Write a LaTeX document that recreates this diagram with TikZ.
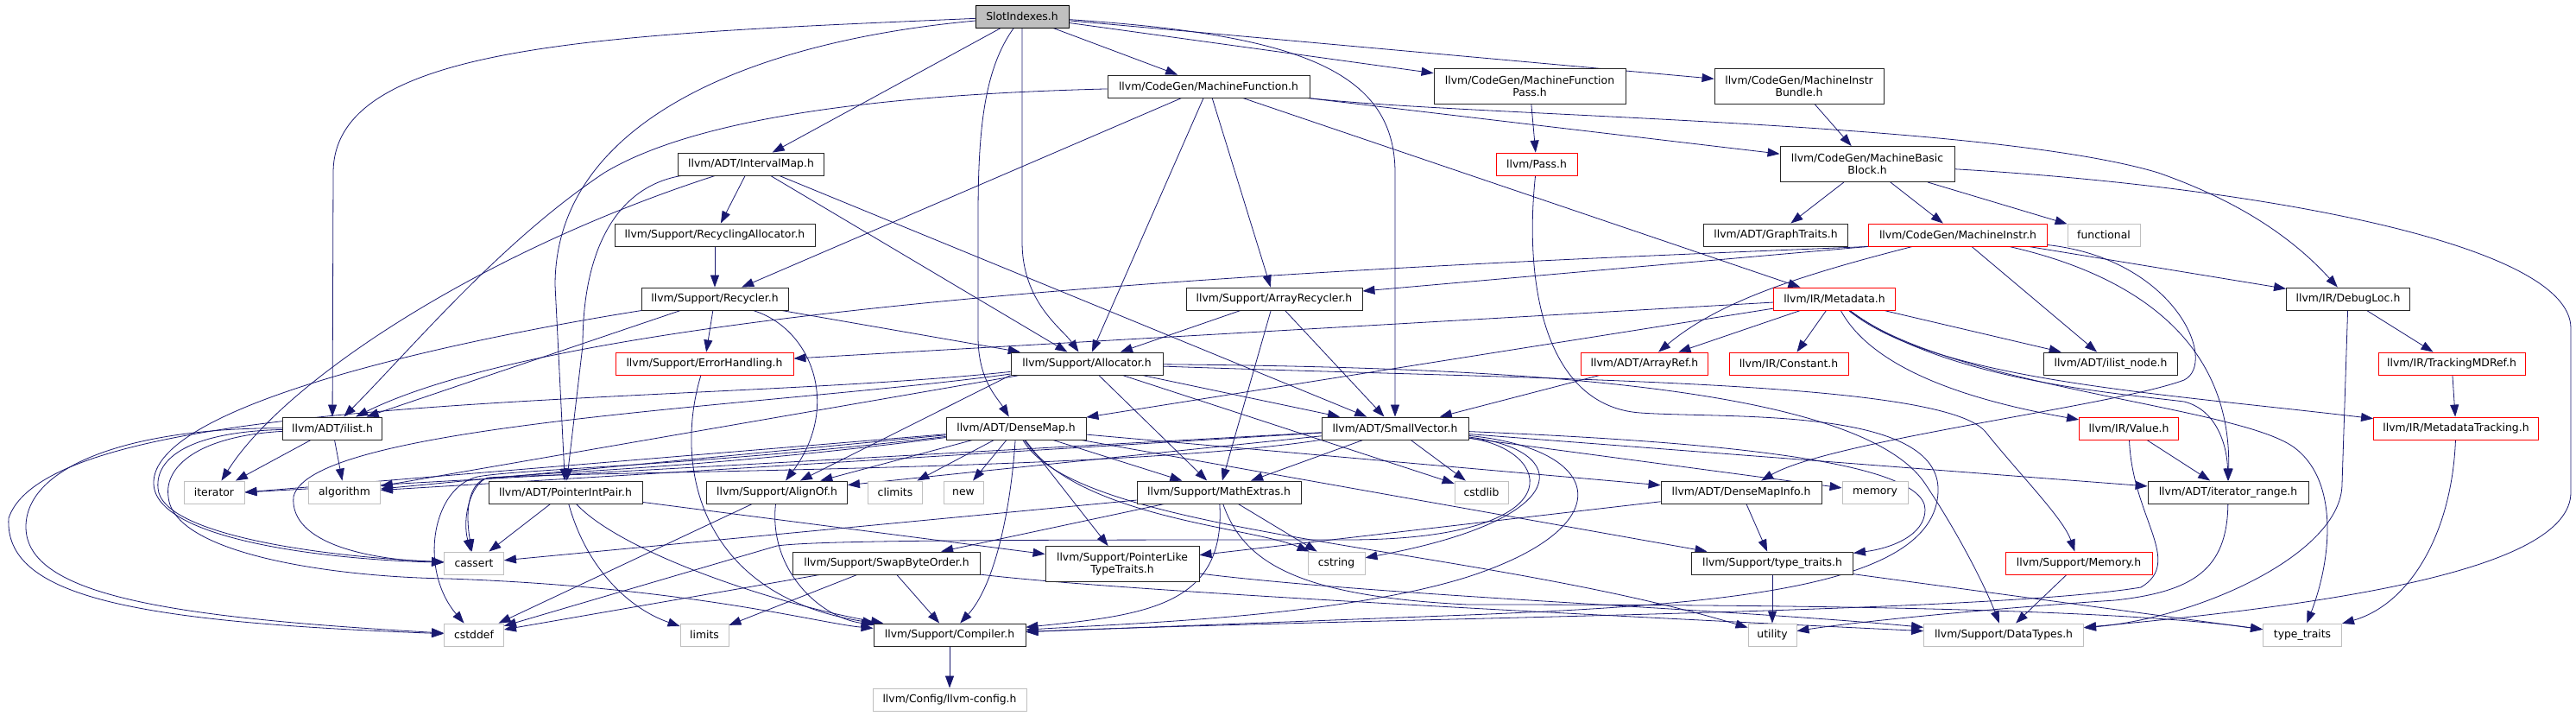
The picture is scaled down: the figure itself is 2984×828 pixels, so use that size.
\documentclass[tikz,border=0pt]{standalone}
\usepackage{fontspec}
\setmainfont{DejaVu Sans}
\usetikzlibrary{arrows.meta,backgrounds}
\definecolor{edgeblue}{HTML}{191970}
\definecolor{boxgray}{HTML}{BFBFBF}

\begin{document}
\begin{tikzpicture}[x=1pt,y=-1pt,
hdr/.style={draw=black!85,line width=0.9pt,fill=white,minimum height=26pt,inner sep=0pt,align=center,font=\fontsize{12.4}{14.5}\selectfont},
twoline/.style={hdr,minimum height=41pt},
root/.style={hdr,draw=black,fill=boxgray},
partial/.style={hdr,draw=red},
sysfile/.style={hdr,draw=boxgray},
dep/.style={draw=edgeblue,line width=0.8pt,-{Triangle[length=14pt,width=10pt]}}]
\useasboundingbox (0,0) rectangle (2984,828);
% row 0
\node[root,minimum width=108pt] (slot) at (1184,19) {SlotIndexes.h};
% row 1
\node[hdr,minimum width=234pt] (mfunc) at (1400,100) {llvm/CodeGen/MachineFunction.h};
\node[twoline,minimum width=222pt] (mfpass) at (1772,100) {llvm/CodeGen/MachineFunction\\Pass.h};
\node[twoline,minimum width=196pt] (mibundle) at (2084,100) {llvm/CodeGen/MachineInstr\\Bundle.h};
% row 2
\node[hdr,minimum width=169pt] (imap) at (870,190) {llvm/ADT/IntervalMap.h};
\node[partial,minimum width=94pt] (pass) at (1780,190) {llvm/Pass.h};
\node[twoline,minimum width=202pt] (mbb) at (2163,190) {llvm/CodeGen/MachineBasic\\Block.h};
% row 3
\node[hdr,minimum width=232pt] (recalloc) at (828,272) {llvm/Support/RecyclingAllocator.h};
\node[hdr,minimum width=167pt] (gtraits) at (2057,272) {llvm/ADT/GraphTraits.h};
\node[partial,minimum width=207pt] (minstr) at (2268,272) {llvm/CodeGen/MachineInstr.h};
\node[sysfile,minimum width=84pt] (functional) at (2437,272) {functional};
% row 4
\node[hdr,minimum width=170pt] (recycler) at (828,346) {llvm/Support/Recycler.h};
\node[hdr,minimum width=204pt] (arecycler) at (1476,346) {llvm/Support/ArrayRecycler.h};
\node[partial,minimum width=141pt] (metadata) at (2125,346) {llvm/IR/Metadata.h};
\node[hdr,minimum width=143pt] (debugloc) at (2720,346) {llvm/IR/DebugLoc.h};
% row 5
\node[partial,minimum width=206pt] (errh) at (816,421) {llvm/Support/ErrorHandling.h};
\node[hdr,minimum width=176pt] (alloc) at (1259,421) {llvm/Support/Allocator.h};
\node[partial,minimum width=147pt] (aref) at (1905,421) {llvm/ADT/ArrayRef.h};
\node[partial,minimum width=138pt] (constant) at (2072,421) {llvm/IR/Constant.h};
\node[hdr,minimum width=155pt] (ilnode) at (2445,421) {llvm/ADT/ilist\_node.h};
\node[partial,minimum width=170pt] (trackmd) at (2840,421) {llvm/IR/TrackingMDRef.h};
% row 6
\node[hdr,minimum width=115pt] (ilist) at (385,496) {llvm/ADT/ilist.h};
\node[hdr,minimum width=162pt] (densemap) at (1177,496) {llvm/ADT/DenseMap.h};
\node[hdr,minimum width=170pt] (smallvec) at (1616,496) {llvm/ADT/SmallVector.h};
\node[partial,minimum width=115pt] (value) at (2466,496) {llvm/IR/Value.h};
\node[partial,minimum width=191pt] (mdtrack) at (2845,496) {llvm/IR/MetadataTracking.h};
% row 7
\node[sysfile,minimum width=70pt] (iterator) at (248,570) {iterator};
\node[sysfile,minimum width=83pt] (algorithm) at (399,570) {algorithm};
\node[hdr,minimum width=178pt] (pip) at (655,570) {llvm/ADT/PointerIntPair.h};
\node[hdr,minimum width=163pt] (alignof) at (900,570) {llvm/Support/AlignOf.h};
\node[sysfile,minimum width=63pt] (climits) at (1037,570) {climits};
\node[sysfile,minimum width=46pt] (new) at (1116,570) {new};
\node[hdr,minimum width=190pt] (mathext) at (1412,570) {llvm/Support/MathExtras.h};
\node[sysfile,minimum width=62pt] (cstdlib) at (1716,570) {cstdlib};
\node[hdr,minimum width=186pt] (dmi) at (2017,570) {llvm/ADT/DenseMapInfo.h};
\node[sysfile,minimum width=76pt] (memory) at (2172,570) {memory};
\node[hdr,minimum width=186pt] (itrange) at (2581,570) {llvm/ADT/iterator\_range.h};
% row 8
\node[sysfile,minimum width=69pt] (cassert) at (549,652) {cassert};
\node[hdr,minimum width=217pt] (sbo) at (1027,652) {llvm/Support/SwapByteOrder.h};
\node[twoline,minimum width=178pt] (plt) at (1300,653) {llvm/Support/PointerLike\\TypeTraits.h};
\node[sysfile,minimum width=66pt] (cstring) at (1548,652) {cstring};
\node[hdr,minimum width=187pt] (sttraits) at (2053,652) {llvm/Support/type\_traits.h};
\node[partial,minimum width=170pt] (memoryh) at (2408,652) {llvm/Support/Memory.h};
% row 9
\node[sysfile,minimum width=69pt] (cstddef) at (549,735) {cstddef};
\node[sysfile,minimum width=56pt] (limits) at (816,735) {limits};
\node[hdr,minimum width=176pt] (compiler) at (1100,735) {llvm/Support/Compiler.h};
\node[sysfile,minimum width=56pt] (utility) at (2053,735) {utility};
\node[sysfile,minimum width=185pt] (datatypes) at (2321,735) {llvm/Support/DataTypes.h};
\node[sysfile,minimum width=91pt] (typetraits) at (2667,735) {type\_traits};
% row 10
\node[sysfile,minimum width=178pt] (config) at (1100,810) {llvm/Config/llvm-config.h};

\begin{scope}[on background layer]
% SlotIndexes.h
\draw[dep] (slot) .. controls (700,40) and (386,50) .. (386,200) -- (ilist);
\draw[dep] (slot) .. controls (850,50) and (643,150) .. (643,330) -- (pip);
\draw[dep] (slot) -- (imap);
\draw[dep] (slot) .. controls (1140,80) and (1133,150) .. (1133,250) -- (1133,390) .. controls (1133,440) and (1155,460) .. (densemap);
\draw[dep] (slot) -- (1184,280) .. controls (1184,350) and (1230,380) .. (alloc);
\draw[dep] (slot) -- (mfunc);
\draw[dep] (slot) -- (mfpass);
\draw[dep] (slot) -- (mibundle);
\draw[dep] (slot) .. controls (1500,40) and (1616,80) .. (1616,200) -- (smallvec);
% MachineFunction.h
\draw[dep] (mfunc) .. controls (1000,110) and (800,140) .. (700,200) .. controls (580,280) and (480,400) .. (ilist);
\draw[dep] (mfunc) -- (recycler);
\draw[dep] (mfunc) -- (alloc);
\draw[dep] (mfunc) -- (arecycler);
\draw[dep] (mfunc) -- (metadata);
\draw[dep] (mfunc) -- (mbb);
\draw[dep] (mfunc) .. controls (1700,135) and (2300,140) .. (2500,200) .. controls (2600,235) and (2660,280) .. (debugloc);
\draw[dep] (mfpass) -- (pass);
\draw[dep] (mibundle) -- (mbb);
\draw[dep] (pass) .. controls (1765,330) and (1790,470) .. (1900,478) .. controls (2000,485) and (2250,470) .. (2245,570) .. controls (2240,680) and (2000,700) .. (1700,712) -- (compiler);
% IntervalMap.h
\draw[dep] (imap) -- (recalloc);
\draw[dep] (imap) .. controls (720,215) and (675,280) .. (675,400) -- (pip);
\draw[dep] (imap) .. controls (560,290) and (330,440) .. (iterator);
\draw[dep] (imap) -- (alloc);
\draw[dep] (imap) -- (smallvec);
% Recycler.h
\draw[dep] (recalloc) -- (recycler);
\draw[dep] (recycler) -- (errh);
\draw[dep] (recycler) .. controls (940,380) and (975,470) .. (alignof);
\draw[dep] (recycler) -- (alloc);
\draw[dep] (recycler) -- (ilist);
\draw[dep] (recycler) .. controls (520,395) and (175,470) .. (178,560) .. controls (180,625) and (380,648) .. (cassert);
% ArrayRecycler.h
\draw[dep] (arecycler) -- (alloc);
\draw[dep] (arecycler) -- (mathext);
\draw[dep] (arecycler) -- (smallvec);
% MachineBasicBlock.h
\draw[dep] (mbb) -- (gtraits);
\draw[dep] (mbb) -- (minstr);
\draw[dep] (mbb) -- (functional);
\draw[dep] (mbb) .. controls (2600,215) and (2978,280) .. (2978,380) -- (2978,570) .. controls (2978,660) and (2700,700) .. (datatypes);
% MachineInstr.h
\draw[dep] (minstr.south west) -- (arecycler);
\draw[dep] (minstr.south west) .. controls (1700,305) and (700,340) .. (ilist);
\draw[dep] (minstr) .. controls (2080,320) and (1990,350) .. (aref);
\draw[dep] (minstr) -- (ilnode);
\draw[dep] (minstr) -- (debugloc);
\draw[dep] (minstr) .. controls (2480,320) and (2585,400) .. (itrange);
\draw[dep] (minstr) .. controls (2520,300) and (2570,420) .. (2530,440) .. controls (2450,470) and (2120,510) .. (dmi);
% Metadata.h
\draw[dep] (metadata) -- (errh);
\draw[dep] (metadata) -- (densemap);
\draw[dep] (metadata) -- (aref);
\draw[dep] (metadata) -- (constant);
\draw[dep] (metadata) -- (ilnode);
\draw[dep] (metadata) .. controls (2165,420) and (2260,460) .. (value);
\draw[dep] (metadata) .. controls (2240,440) and (2500,455) .. (mdtrack);
\draw[dep] (metadata) .. controls (2250,440) and (2450,455) .. (2530,465) .. controls (2570,475) and (2580,520) .. (itrange);
\draw[dep] (metadata) .. controls (2260,450) and (2600,470) .. (2660,520) .. controls (2710,560) and (2700,650) .. (typetraits);
% DebugLoc.h, Value.h
\draw[dep] (debugloc) -- (trackmd);
\draw[dep] (debugloc) -- (2713,560) .. controls (2713,640) and (2550,715) .. (datatypes);
\draw[dep] (trackmd) -- (mdtrack);
\draw[dep] (mdtrack) .. controls (2840,620) and (2790,700) .. (typetraits);
\draw[dep] (aref) -- (smallvec);
\draw[dep] (value) -- (itrange);
\draw[dep] (value) .. controls (2470,600) and (2530,650) .. (2480,680) .. controls (2300,710) and (1600,715) .. (compiler);
% Allocator.h
\draw[dep] (alloc) -- (smallvec);
\draw[dep] (alloc.south west) -- (alignof);
\draw[dep] (alloc) -- (mathext);
\draw[dep] (alloc) -- (algorithm);
\draw[dep] (alloc) -- (cstdlib);
\draw[dep] (alloc) .. controls (900,470) and (360,490) .. (340,575) .. controls (335,630) and (430,648) .. (cassert);
\draw[dep] (alloc) .. controls (800,470) and (60,450) .. (10,600) .. controls (5,690) and (150,720) .. (cstddef);
\draw[dep] (alloc) .. controls (1700,425) and (2150,440) .. (2230,560) .. controls (2270,620) and (2300,680) .. (datatypes);
\draw[dep] (alloc) .. controls (1800,440) and (2250,440) .. (2300,500) .. controls (2340,550) and (2390,600) .. (memoryh);
% DenseMap.h
\draw[dep] (densemap) -- (dmi);
\draw[dep] (densemap) -- (alignof);
\draw[dep] (densemap) -- (mathext);
\draw[dep] (densemap) -- (plt);
\draw[dep] (densemap) -- (sttraits);
\draw[dep] (densemap) -- (algorithm);
\draw[dep] (densemap) -- (climits);
\draw[dep] (densemap) -- (new);
\draw[dep] (densemap) -- (iterator.east);
\draw[dep] (densemap) .. controls (1170,600) and (1150,680) .. (compiler);
\draw[dep] (densemap) .. controls (800,545) and (600,547) .. (560,555) .. controls (540,565) and (540,600) .. (cassert);
\draw[dep] (densemap) .. controls (800,540) and (600,543) .. (553,552) .. controls (500,565) and (485,660) .. (cstddef);
\draw[dep] (densemap) .. controls (1250,600) and (1450,610) .. (cstring);
\draw[dep] (densemap) .. controls (1250,620) and (1700,630) .. (utility);
% SmallVector.h
\draw[dep] (smallvec) -- (itrange);
\draw[dep] (smallvec) -- (alignof);
\draw[dep] (smallvec) -- (mathext);
\draw[dep] (smallvec) -- (algorithm);
\draw[dep] (smallvec) -- (cstdlib);
\draw[dep] (smallvec) -- (memory);
\draw[dep] (smallvec) -- (iterator.east);
\draw[dep] (smallvec) .. controls (1300,545) and (700,545) .. (565,553) .. controls (545,560) and (535,600) .. (cassert);
\draw[dep] (smallvec) .. controls (1800,520) and (1830,625) .. (1560,625) .. controls (1200,625) and (950,625) .. (900,632) -- (cstddef);
\draw[dep] (smallvec) .. controls (1820,520) and (1830,600) .. (cstring);
\draw[dep] (smallvec) .. controls (1860,520) and (1880,610) .. (1700,668) .. controls (1550,715) and (1300,722) .. (compiler);
\draw[dep] (smallvec) .. controls (1950,510) and (2230,530) .. (2230,590) .. controls (2230,620) and (2190,635) .. (sttraits);
% MathExtras.h
\draw[dep] (mathext) -- (sbo);
\draw[dep] (mathext) -- (cassert);
\draw[dep] (mathext) -- (cstring);
\draw[dep] (mathext) .. controls (1420,700) and (1330,712) .. (compiler);
\draw[dep] (mathext) .. controls (1440,650) and (1500,690) .. (1700,700) .. controls (2100,700) and (2450,705) .. (typetraits);
% lower rows
\draw[dep] (sbo) -- (compiler);
\draw[dep] (sbo) -- (cstddef);
\draw[dep] (sbo) -- (limits);
\draw[dep] (sbo) .. controls (1300,685) and (1900,715) .. (datatypes);
\draw[dep] (pip) -- (cassert);
\draw[dep] (pip) -- (plt);
\draw[dep] (pip) .. controls (680,660) and (730,705) .. (limits);
\draw[dep] (pip) .. controls (720,640) and (900,700) .. (compiler);
\draw[dep] (alignof) -- (cstddef);
\draw[dep] (alignof) .. controls (890,660) and (950,715) .. (compiler);
\draw[dep] (errh) .. controls (780,540) and (810,690) .. (compiler);
\draw[dep] (plt) .. controls (1600,690) and (2000,705) .. (datatypes);
\draw[dep] (dmi) -- (plt);
\draw[dep] (dmi) -- (sttraits);
\draw[dep] (sttraits) -- (utility);
\draw[dep] (sttraits) -- (typetraits);
\draw[dep] (itrange) .. controls (2580,660) and (2540,685) .. (2450,695) .. controls (2300,705) and (2150,720) .. (utility);
\draw[dep] (memoryh) -- (datatypes);
\draw[dep] (compiler) -- (config);
% ilist.h
\draw[dep] (ilist) -- (iterator);
\draw[dep] (ilist) -- (algorithm);
\draw[dep] (ilist) .. controls (220,500) and (180,530) .. (183,565) .. controls (186,620) and (380,645) .. (cassert);
\draw[dep] (ilist) .. controls (230,505) and (190,540) .. (195,575) .. controls (200,640) and (380,668) .. (520,670) .. controls (800,680) and (950,722) .. (compiler);
\draw[dep] (ilist) .. controls (150,495) and (30,540) .. (30,610) .. controls (30,690) and (200,715) .. (cstddef);
\end{scope}
\end{tikzpicture}
\end{document}
